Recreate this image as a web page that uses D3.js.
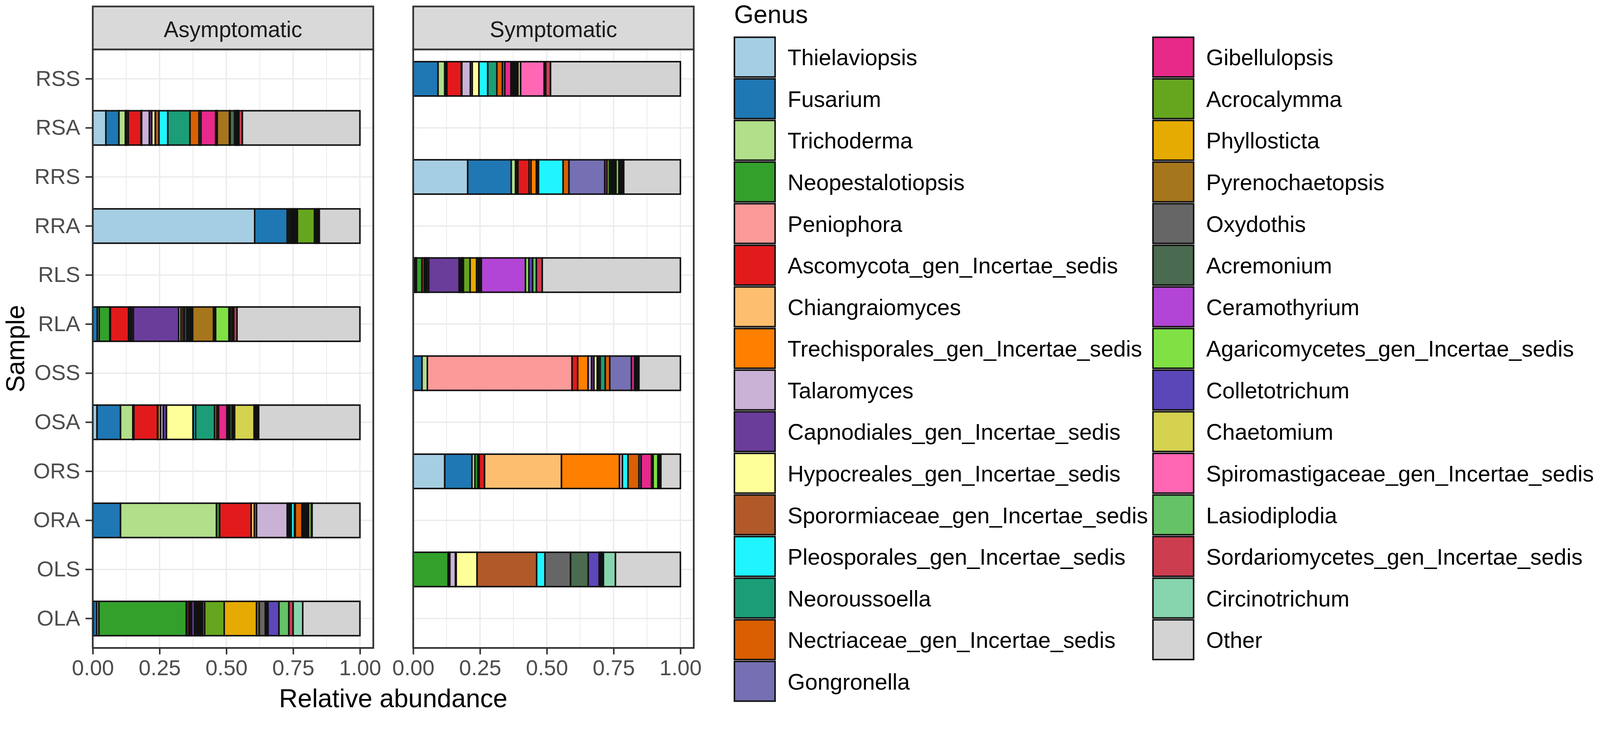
<!DOCTYPE html>
<html>
<head>
<meta charset="utf-8">
<script src="https://cdn.jsdelivr.net/npm/d3@7"></script>
<style>
  html, body { margin: 0; padding: 0; background: #fff; overflow: hidden; }
  #chart { width: 100vw; }
  svg { display: block; }
  text { font-family: "Liberation Sans", Arial, sans-serif; }
</style>
</head>
<body>
<div id="chart"></div>
<script>
// genus order = legend order = stacking order
var genera = ["Thielaviopsis", "Fusarium", "Trichoderma", "Neopestalotiopsis", "Peniophora",
  "Ascomycota_gen_Incertae_sedis", "Chiangraiomyces", "Trechisporales_gen_Incertae_sedis",
  "Talaromyces", "Capnodiales_gen_Incertae_sedis", "Hypocreales_gen_Incertae_sedis",
  "Sporormiaceae_gen_Incertae_sedis", "Pleosporales_gen_Incertae_sedis", "Neoroussoella",
  "Nectriaceae_gen_Incertae_sedis", "Gongronella", "Gibellulopsis", "Acrocalymma", "Phyllosticta",
  "Pyrenochaetopsis", "Oxydothis", "Acremonium", "Ceramothyrium", "Agaricomycetes_gen_Incertae_sedis",
  "Colletotrichum", "Chaetomium", "Spiromastigaceae_gen_Incertae_sedis", "Lasiodiplodia",
  "Sordariomycetes_gen_Incertae_sedis", "Circinotrichum", "Other"];

var genusColors = ["#A6CEE3", "#1F78B4", "#B2DF8A", "#33A02C", "#FB9A99", "#E31A1C", "#FDBF6F",
  "#FF7F00", "#CAB2D6", "#6A3D9A", "#FFFF99", "#B15928", "#20F4FF", "#1B9E77", "#D95F02",
  "#7570B3", "#E7298A", "#66A61E", "#E6AB02", "#A6761D", "#666666", "#4A6B50", "#B245D5",
  "#80E044", "#5B47B8", "#D4D24F", "#FF66B3", "#66C266", "#CC3D50", "#86D5AF", "#D3D3D3"];

var sampleOrder = ["RSS", "RSA", "RRS", "RRA", "RLS", "RLA", "OSS", "OSA", "ORS", "ORA", "OLS", "OLA"];
var facets = ["Asymptomatic", "Symptomatic"];
var asymptomaticSamples = ["RSA", "RRA", "RLA", "OSA", "ORA", "OLA"];
var symptomaticSamples = ["RSS", "RRS", "RLS", "OSS", "ORS", "OLS"];
var xTicks = [0, 0.25, 0.5, 0.75, 1];
var xTickLabels = ["0.00", "0.25", "0.50", "0.75", "1.00"];

// relative abundance per sample, one value per genus (same order as genera)
var RSA = [0.049,0.049,0.024,0.005,0.006,0.048,0.001,0.001,0.029,0.009,0.013,0.014,0.033,0.083,0.034,0.007,0.055,0.003,0.003,0.046,0.002,0.017,0.003,0.003,0.003,0.003,0.002,0.002,0.013,0,0.440];
var RRA = [0.606,0.122,0,0.006,0,0.006,0,0,0.005,0.005,0,0,0.004,0.004,0.004,0,0.004,0.064,0.004,0.004,0,0.004,0,0,0.003,0,0,0,0.003,0,0.152];
var RLA = [0,0.017,0.007,0.040,0.002,0.068,0.006,0.006,0.006,0.170,0.008,0.008,0.006,0.008,0.006,0.006,0.005,0.005,0,0.078,0.004,0.004,0,0.050,0.006,0.006,0.003,0.003,0.012,0,0.460];
var OSA = [0.016,0.088,0.046,0.002,0.002,0.088,0.002,0.010,0.010,0.012,0.099,0.002,0.008,0.071,0.009,0.006,0.031,0.003,0.003,0.003,0.002,0.009,0.003,0.003,0.003,0.073,0.005,0.004,0.004,0.004,0.379];
var ORA = [0,0.104,0.359,0.012,0,0.118,0.012,0.008,0.115,0.005,0.005,0.005,0.012,0.003,0.025,0.005,0.005,0.005,0.004,0.004,0.002,0,0,0.010,0.003,0,0,0,0,0,0.179];
var OLA = [0.002,0.013,0.008,0.327,0.002,0.008,0.003,0.003,0.004,0.011,0.005,0.005,0.005,0.005,0.005,0.005,0.008,0.073,0.121,0.010,0.023,0.005,0.005,0,0.041,0,0,0.037,0.016,0.036,0.214];
var RSS = [0,0.093,0.025,0.004,0.004,0.054,0.002,0,0.032,0.007,0.025,0,0.033,0.034,0.021,0.009,0.023,0.004,0.004,0.004,0.004,0.004,0.003,0.003,0,0.010,0.088,0.006,0.018,0,0.486];
var RRS = [0.204,0.163,0.016,0.005,0.004,0.042,0.007,0.020,0.003,0.003,0.002,0,0.092,0,0.022,0.134,0.008,0.010,0.005,0.005,0.005,0.005,0.004,0.011,0.004,0.004,0.004,0.003,0.003,0,0.212];
var RLS = [0.004,0.004,0.004,0.021,0,0.009,0.005,0.005,0.006,0.114,0.004,0.004,0.003,0.003,0.002,0,0,0.025,0.024,0.006,0.006,0.006,0.165,0.013,0.014,0,0,0.014,0.022,0,0.517];
var OSS = [0,0.033,0.020,0,0.541,0.021,0,0.039,0.013,0.009,0.012,0.005,0.006,0.019,0.017,0.081,0.012,0.004,0.004,0.004,0.004,0,0,0,0,0,0,0,0,0,0.155];
var ORS = [0.118,0.102,0.011,0.011,0.005,0.020,0.288,0.217,0.011,0,0,0,0.021,0,0.041,0.008,0.039,0.003,0.003,0,0,0,0,0.018,0.004,0.004,0.003,0,0,0,0.073];
var OLS = [0,0,0,0.131,0,0.003,0,0.003,0.021,0.003,0.078,0.223,0.031,0,0,0,0,0,0,0,0.096,0.066,0,0,0.041,0.004,0.004,0.004,0.004,0.045,0.243];

var abundance = {RSA: RSA, RRA: RRA, RLA: RLA, OSA: OSA, ORA: ORA, OLA: OLA,
                 RSS: RSS, RRS: RRS, RLS: RLS, OSS: OSS, ORS: ORS, OLS: OLS};

// plot parameters (drawing units; the svg scales to the window width)
var width = 4209;
var height = 1877;
var panelTop = 130, panelBottom = 1705, stripTop = 17;
var panelX = {Asymptomatic: [244, 982], Symptomatic: [1087, 1825]};
var facetSamples = {Asymptomatic: asymptomaticSamples, Symptomatic: symptomaticSamples};

var svg = d3.select('#chart').append('svg')
            .attr('viewBox', '0 0 ' + width + ' ' + height)
            .attr('preserveAspectRatio', 'xMinYMin meet')
            .attr('width', '100%');

var color = d3.scaleOrdinal().domain(genera).range(genusColors);

var y = d3.scaleBand()
          .domain(sampleOrder)
          .range([panelTop, panelBottom])
          .paddingInner(0.3)
          .paddingOuter(0.25);

var stack = d3.stack().keys(genera).offset(d3.stackOffsetExpand);

facets.forEach(function(facet, fi) {
  var x = d3.scaleLinear().domain([0, 1.05]).range(panelX[facet]);
  var x0 = panelX[facet][0], x1 = panelX[facet][1];
  var g = svg.append('g').attr('class', 'panel');

  // grid: minor then major
  g.selectAll('.minor').data([0.125, 0.375, 0.625, 0.875]).enter().append('line')
    .attr('x1', function(d) { return x(d); }).attr('x2', function(d) { return x(d); })
    .attr('y1', panelTop).attr('y2', panelBottom)
    .attr('stroke', '#EBEBEB').attr('stroke-width', 2);
  g.selectAll('.majorx').data(xTicks).enter().append('line')
    .attr('x1', function(d) { return x(d); }).attr('x2', function(d) { return x(d); })
    .attr('y1', panelTop).attr('y2', panelBottom)
    .attr('stroke', '#EBEBEB').attr('stroke-width', 3.5);
  g.selectAll('.majory').data(sampleOrder).enter().append('line')
    .attr('x1', x0).attr('x2', x1)
    .attr('y1', function(d) { return y(d) + y.bandwidth() / 2; })
    .attr('y2', function(d) { return y(d) + y.bandwidth() / 2; })
    .attr('stroke', '#EBEBEB').attr('stroke-width', 3.5);

  // stacked bars
  var rows = facetSamples[facet].map(function(s) {
    var row = {sample: s};
    genera.forEach(function(gn, i) { row[gn] = abundance[s][i]; });
    return row;
  });
  var series = stack(rows);

  series.forEach(function(layer) {
    g.selectAll(null).data(layer.filter(function(d) { return d[1] - d[0] > 0; }))
      .enter().append('rect')
      .attr('x', function(d) { return x(d[0]); })
      .attr('width', function(d) { return x(d[1]) - x(d[0]); })
      .attr('y', function(d) { return y(d.data.sample); })
      .attr('height', y.bandwidth())
      .attr('fill', color(layer.key))
      .attr('stroke', '#111')
      .attr('stroke-width', 4);
  });

  // panel border
  g.append('rect').attr('x', x0).attr('y', panelTop)
    .attr('width', x1 - x0).attr('height', panelBottom - panelTop)
    .attr('fill', 'none').attr('stroke', '#333333').attr('stroke-width', 4.5);

  // strip
  g.append('rect').attr('x', x0).attr('y', stripTop)
    .attr('width', x1 - x0).attr('height', panelTop - stripTop)
    .attr('fill', '#D9D9D9').attr('stroke', '#333333').attr('stroke-width', 4.5);
  g.append('text').attr('x', (x0 + x1) / 2).attr('y', 98)
    .attr('text-anchor', 'middle').attr('font-size', 58).attr('fill', '#1A1A1A')
    .text(facet);

  // x axis
  var xAxis = d3.axisBottom(x).tickValues(xTicks)
    .tickFormat(function(d, i) { return xTickLabels[i]; })
    .tickSize(17).tickPadding(14);
  var ax = g.append('g').attr('transform', 'translate(0,' + panelBottom + ')').call(xAxis);
  ax.select('.domain').remove();
  ax.selectAll('line').attr('stroke', '#333333').attr('stroke-width', 4);
  ax.selectAll('text').attr('font-size', 57).attr('fill', '#4D4D4D')
    .attr('font-family', '"Liberation Sans", Arial, sans-serif');

  if (fi === 0) {
    var yAxis = d3.axisLeft(y).tickSize(19).tickPadding(14);
    var ay = g.append('g').attr('transform', 'translate(' + x0 + ',0)').call(yAxis);
    ay.select('.domain').remove();
    ay.selectAll('line').attr('stroke', '#333333').attr('stroke-width', 4);
    ay.selectAll('text').attr('font-size', 57).attr('fill', '#4D4D4D')
      .attr('font-family', '"Liberation Sans", Arial, sans-serif');
  }
});

// axis titles
svg.append('text').attr('x', (244 + 1825) / 2).attr('y', 1861)
  .attr('text-anchor', 'middle').attr('font-size', 68).attr('fill', '#000')
  .text('Relative abundance');
svg.append('text')
  .attr('transform', 'translate(64,' + (panelTop + panelBottom) / 2 + ') rotate(-90)')
  .attr('text-anchor', 'middle').attr('font-size', 68).attr('fill', '#000')
  .text('Sample');

// legend, two columns
var legend = svg.append('g').attr('class', 'legend');
legend.append('text').attr('x', 1931).attr('y', 61).attr('font-size', 66).text('Genus');

var keyStep = 109.5, keyTop = 96, keySize = 111;
var colKeyX = [1930, 3031];
var perCol = 16;

var items = legend.selectAll('.item').data(genera).enter().append('g')
  .attr('transform', function(d, i) {
    var col = i < perCol ? 0 : 1;
    var row = i < perCol ? i : i - perCol;
    return 'translate(' + colKeyX[col] + ',' + (keyTop + row * keyStep) + ')';
  });
items.append('rect').attr('x', 2).attr('y', 2)
  .attr('width', keySize - 4).attr('height', keyStep - 5)
  .attr('fill', function(d) { return color(d); })
  .attr('stroke', '#111').attr('stroke-width', 4);
items.append('text').attr('x', keySize + 31).attr('y', keyStep / 2)
  .attr('dy', '0.36em').attr('font-size', 59).attr('fill', '#000')
  .text(function(d) { return d; });
</script>
</body>
</html>
